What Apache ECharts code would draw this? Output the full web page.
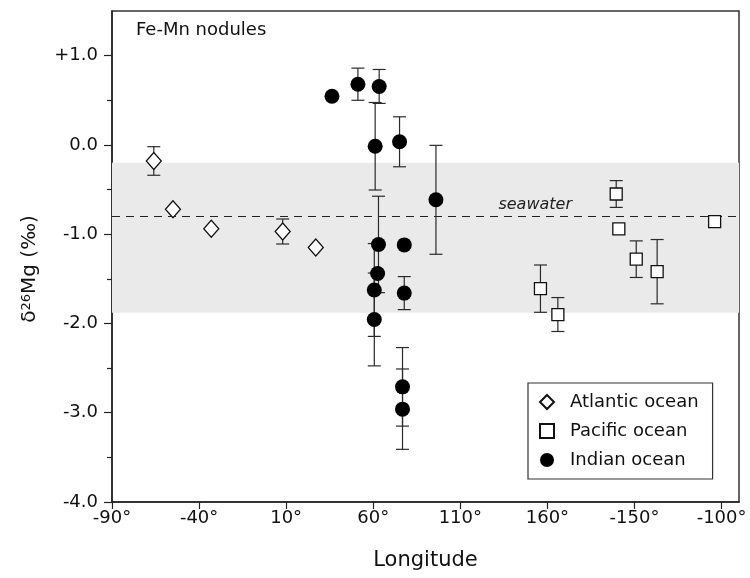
<!DOCTYPE html>
<html>
<head>
<meta charset="utf-8">
<script src="https://cdn.jsdelivr.net/npm/echarts@6/dist/echarts.min.js"></script>
<style>html,body{margin:0;padding:0;background:#fff}#c{width:750px;height:578px}</style>
</head>
<body>
<div id="c"></div>
<script>
// Longitude expressed continuously eastward (values > 180 are west longitudes: lon - 360)
const atlanticLon = [-66, -55, -33, 8, 27];
const atlanticVal = [-0.18, -0.72, -0.94, -0.97, -1.15];
const atlanticErr = [0.16, 0, 0, 0.14, 0];

const pacificLon = [156, 166, 199.5, 201, 211, 223, 256];
const pacificVal = [-1.61, -1.90, -0.55, -0.94, -1.28, -1.42, -0.86];
const pacificErr = [0.265, 0.19, 0.15, 0, 0.205, 0.36, 0];

const indianLon = [36.3, 51.2, 63.4, 61.1, 75.1, 96, 63, 77.8, 62.5, 60.6, 77.8, 60.6, 76.8, 76.8];
const indianVal = [0.545, 0.68, 0.655, -0.015, 0.035, -0.615, -1.115, -1.12, -1.44, -1.625, -1.66, -1.955, -2.71, -2.96];
const indianErr = [0, 0.18, 0.19, 0.49, 0.28, 0.61, 0.54, 0, 0, 0.52, 0.185, 0.52, 0.44, 0.45];

const seawaterBand = [-0.2, -1.88];
const seawaterValue = -0.8;
const seawaterLabelLon = 153;

const xTickValues = [-90, -40, 10, 60, 110, 160, 210, 260];
const xTickLabels = ['-90°', '-40°', '10°', '60°', '110°', '160°', '-150°', '-100°'];
const yTickValues = [-4, -3, -2, -1, 0, 1];
const yTickLabels = ['-4.0', '-3.0', '-2.0', '-1.0', '0.0', '+1.0'];
const yMinorTickValues = [-3.5, -2.5, -1.5, -0.5, 0.5];

const FONT = 'DejaVu Sans';

function rows(lon, val, err) { return lon.map((x, i) => [x, val[i], err[i]]); }

function errRender(params, api) {
  const e = api.value(2);
  if (!e) return null;
  const x = api.value(0), y = api.value(1);
  const top = api.coord([x, y + e]);
  const bot = api.coord([x, y - e]);
  const hw = 6.5;
  const st = { stroke: '#2a2a2a', lineWidth: 1.2 };
  return {
    type: 'group',
    children: [
      { type: 'line', shape: { x1: top[0], y1: top[1], x2: bot[0], y2: bot[1] }, style: st },
      { type: 'line', shape: { x1: top[0] - hw, y1: top[1], x2: top[0] + hw, y2: top[1] }, style: st },
      { type: 'line', shape: { x1: bot[0] - hw, y1: bot[1], x2: bot[0] + hw, y2: bot[1] }, style: st }
    ]
  };
}

function errSeries(name, data) {
  return { type: 'custom', name: name, renderItem: errRender, data: data, z: 3, silent: true,
           encode: { x: 0, y: 1 } };
}

const chart = echarts.init(document.getElementById('c'), null, { renderer: 'canvas' });
chart.setOption({
  animation: false,
  backgroundColor: '#fff',
  textStyle: { fontFamily: FONT, color: '#111' },
  title: {
    text: 'Fe-Mn nodules', left: 136, top: 21, padding: 0,
    textStyle: { fontFamily: FONT, fontSize: 18, fontWeight: 'normal', color: '#111' }
  },
  grid: { left: 112, right: 11, top: 11, bottom: 76, show: true, borderColor: '#333', borderWidth: 1.5, containLabel: false },
  xAxis: {
    type: 'value', min: -90, max: 270,
    name: 'Longitude', nameLocation: 'middle', nameGap: 48,
    nameTextStyle: { fontFamily: FONT, fontSize: 21, color: '#111' },
    splitLine: { show: false },
    axisLine: { onZero: false, lineStyle: { color: '#222', width: 1.5 } },
    axisTick: { show: true, inside: false, length: 7, customValues: xTickValues, lineStyle: { color: '#222', width: 1.2 } },
    axisLabel: { customValues: xTickValues, margin: 7, fontFamily: FONT, fontSize: 18, color: '#111',
                 formatter: v => xTickLabels[xTickValues.indexOf(v)] }
  },
  yAxis: [{
    type: 'value', min: -4, max: 1.5,
    splitLine: { show: false },
    axisLine: { onZero: false, lineStyle: { color: '#222', width: 1.5 } },
    axisTick: { show: true, length: 8, customValues: yTickValues, lineStyle: { color: '#222', width: 1.2 } },
    axisLabel: { customValues: yTickValues, margin: 14, fontFamily: FONT, fontSize: 18, color: '#111',
                 formatter: v => yTickLabels[yTickValues.indexOf(v)] }
  }, {
    type: 'value', min: -4, max: 1.5, position: 'left',
    splitLine: { show: false },
    axisLine: { show: false, onZero: false },
    axisTick: { show: true, length: 5, customValues: yMinorTickValues, lineStyle: { color: '#222', width: 1.2 } },
    axisLabel: { show: false }
  }],
  legend: {
    orient: 'vertical', left: 528, top: 383,
    padding: [10, 14, 10, 11], itemGap: 11,
    itemWidth: 14, itemHeight: 14,
    borderColor: '#333', borderWidth: 1.2, backgroundColor: '#fff',
    textStyle: { fontFamily: FONT, fontSize: 18, color: '#111', padding: [0, 0, 0, 11] },
    data: [
      { name: 'Atlantic ocean', icon: 'diamond' },
      { name: 'Pacific ocean', icon: 'path://M1.5,1.5L12.5,1.5L12.5,12.5L1.5,12.5Z' },
      { name: 'Indian ocean', icon: 'circle' }
    ]
  },
  graphic: [{
    type: 'text', x: 30, y: 269, rotation: Math.PI / 2,
    style: {
      text: '{a|δ}{s|26}{a|Mg (‰)}', align: 'center', verticalAlign: 'middle',
      rich: {
        a: { fontFamily: FONT, fontSize: 20, fill: '#111', color: '#111' },
        s: { fontFamily: FONT, fontSize: 13, verticalAlign: 'top', fill: '#111', color: '#111' }
      }
    }
  }],
  series: [
    {
      type: 'line', name: 'ref', data: [], z: 1, silent: true,
      markArea: {
        silent: true, itemStyle: { color: '#eaeaea' },
        data: [[{ yAxis: seawaterBand[0] }, { yAxis: seawaterBand[1] }]]
      },
      markLine: {
        silent: true, symbol: ['none', 'none'], label: { show: false },
        lineStyle: { color: '#222', type: [8, 6], width: 1.2 },
        data: [{ yAxis: seawaterValue }]
      },
      markPoint: {
        silent: true, symbol: 'circle', symbolSize: 0,
        label: { show: true, position: 'top', distance: 3, formatter: 'seawater',
                 fontFamily: FONT, fontStyle: 'italic', fontSize: 16, color: '#222' },
        data: [{ coord: [seawaterLabelLon, seawaterValue] }]
      }
    },
    errSeries('Atlantic err', rows(atlanticLon, atlanticVal, atlanticErr)),
    errSeries('Pacific err', rows(pacificLon, pacificVal, pacificErr)),
    errSeries('Indian err', rows(indianLon, indianVal, indianErr)),
    {
      type: 'scatter', name: 'Atlantic ocean', symbol: 'diamond', symbolSize: [15, 17], z: 5,
      itemStyle: { color: '#fff', borderColor: '#111', borderWidth: 1.3, opacity: 1 },
      data: rows(atlanticLon, atlanticVal, atlanticErr)
    },
    {
      type: 'scatter', name: 'Pacific ocean', symbol: 'rect', symbolSize: 12, z: 5,
      itemStyle: { color: '#fff', borderColor: '#111', borderWidth: 1.3, opacity: 1 },
      data: rows(pacificLon, pacificVal, pacificErr)
    },
    {
      type: 'scatter', name: 'Indian ocean', symbol: 'circle', symbolSize: 15, z: 5,
      itemStyle: { color: '#000', opacity: 1 },
      data: rows(indianLon, indianVal, indianErr)
    }
  ]
});
</script>
</body>
</html>
